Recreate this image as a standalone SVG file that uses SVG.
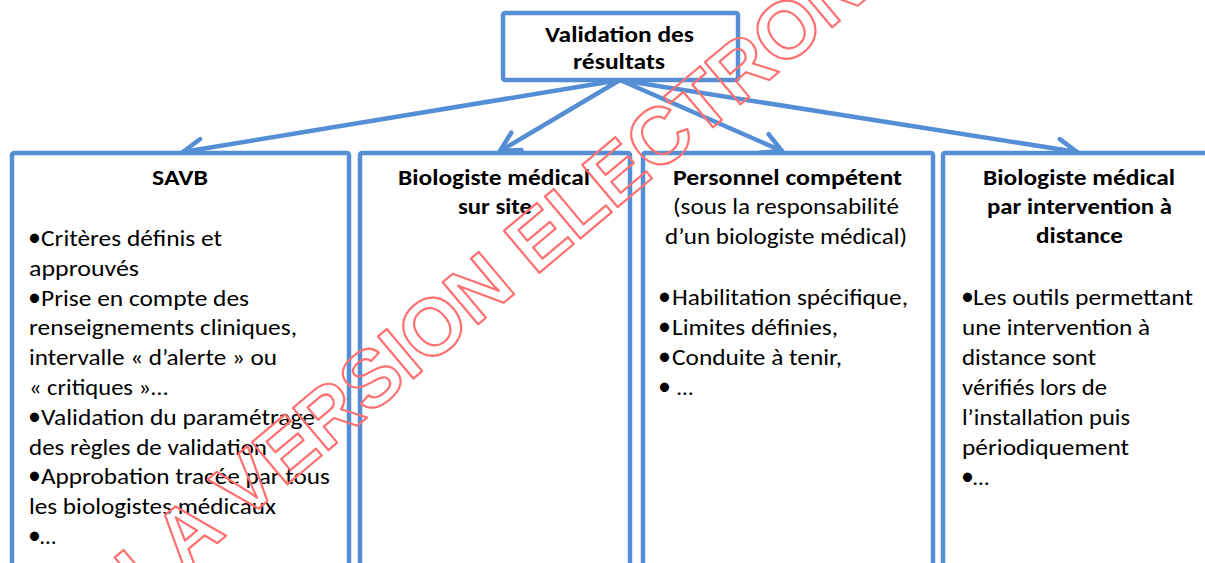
<svg xmlns="http://www.w3.org/2000/svg" width="1205" height="563" viewBox="0 0 1205 563">
<style>
.box{fill:#fff;stroke:#558ED5;stroke-width:4.5}
.con{fill:none;stroke:#558ED5;stroke-width:4.5;stroke-linecap:round}
.t{font-family:Carlito,Lato,"Liberation Sans",sans-serif;font-size:23px;fill:#000}
.b{font-weight:700}
.bu{font-family:Carlito,Lato,"Liberation Sans",sans-serif;font-size:26px;fill:#000}
.wm{font-family:"Liberation Sans",Arial,sans-serif;font-weight:700;font-size:80px;fill:none;stroke:#FF7070;stroke-width:2.2;stroke-linejoin:round}
</style>
<defs>
<marker id="arr" markerUnits="userSpaceOnUse" markerWidth="40" markerHeight="40" viewBox="-30 -20 40 40" refX="0" refY="0" orient="auto">
<path d="M-19,-10 L0,0 L-19,10" fill="none" stroke="#558ED5" stroke-width="4.5" stroke-linecap="round" stroke-linejoin="round"/>
</marker>
</defs>
<rect width="1205" height="563" fill="#fff"/>
<g id="connectors">
<line class="con" x1="620" y1="80" x2="183" y2="152" marker-end="url(#arr)"/>
<line class="con" x1="620" y1="80" x2="500" y2="151" marker-end="url(#arr)"/>
<line class="con" x1="620" y1="80" x2="782" y2="151" marker-end="url(#arr)"/>
<line class="con" x1="620" y1="80" x2="1077" y2="152" marker-end="url(#arr)"/>
</g>
<g id="node-top">
<rect class="box" x="503" y="13" width="235" height="67" rx="2"/>
<text class="t b" x="545" y="42" textLength="149" lengthAdjust="spacingAndGlyphs">Validation des</text>
<text class="t b" x="573" y="69" textLength="92" lengthAdjust="spacingAndGlyphs">résultats</text>
</g>
<g id="node-savb">
<rect class="box" x="12" y="153" width="337" height="440" rx="2"/>
<text class="t b" x="152" y="185" textLength="56" lengthAdjust="spacingAndGlyphs">SAVB</text>
<text class="bu" x="28" y="246">•</text>
<text class="t" x="41" y="246" textLength="181" lengthAdjust="spacingAndGlyphs">Critères définis et</text>
<text class="t" x="29" y="275.8" textLength="110" lengthAdjust="spacingAndGlyphs">approuvés</text>
<text class="bu" x="28" y="305.6">•</text>
<text class="t" x="41" y="305.6" textLength="208" lengthAdjust="spacingAndGlyphs">Prise en compte des</text>
<text class="t" x="29" y="335.4" textLength="268" lengthAdjust="spacingAndGlyphs">renseignements cliniques,</text>
<text class="t" x="29" y="365.2" textLength="248" lengthAdjust="spacingAndGlyphs">intervalle « d’alerte » ou</text>
<text class="t" x="29" y="395" textLength="139" lengthAdjust="spacingAndGlyphs">« critiques »…</text>
<text class="bu" x="28" y="424.8">•</text>
<text class="t" x="41" y="424.8" textLength="274" lengthAdjust="spacingAndGlyphs">Validation du paramétrage</text>
<text class="t" x="29" y="454.6" textLength="238" lengthAdjust="spacingAndGlyphs">des règles de validation</text>
<text class="bu" x="28" y="484.4">•</text>
<text class="t" x="41" y="484.4" textLength="289" lengthAdjust="spacingAndGlyphs">Approbation tracée par tous</text>
<text class="t" x="29" y="514.2" textLength="247" lengthAdjust="spacingAndGlyphs">les biologistes médicaux</text>
<text class="bu" x="28" y="544">•</text>
<text class="t" x="40" y="544">…</text>
</g>
<g id="node-site">
<rect class="box" x="360" y="153" width="270" height="440" rx="2"/>
<text class="t b" x="398" y="185" textLength="192" lengthAdjust="spacingAndGlyphs">Biologiste médical</text>
<text class="t b" x="458" y="214" textLength="74" lengthAdjust="spacingAndGlyphs">sur site</text>
</g>
<g id="node-personnel">
<rect class="box" x="643" y="153" width="290" height="440" rx="2"/>
<text class="t b" x="673" y="185" textLength="229" lengthAdjust="spacingAndGlyphs">Personnel compétent</text>
<text class="t" x="673" y="214" textLength="226" lengthAdjust="spacingAndGlyphs">(sous la responsabilité</text>
<text class="t" x="665" y="244" textLength="242" lengthAdjust="spacingAndGlyphs">d’un biologiste médical)</text>
<text class="bu" x="658" y="305">•</text>
<text class="t" x="672" y="305" textLength="236" lengthAdjust="spacingAndGlyphs">Habilitation  spécifique,</text>
<text class="bu" x="658" y="335">•</text>
<text class="t" x="672" y="335" textLength="166" lengthAdjust="spacingAndGlyphs">Limites définies,</text>
<text class="bu" x="658" y="365">•</text>
<text class="t" x="672" y="365" textLength="170" lengthAdjust="spacingAndGlyphs">Conduite à tenir,</text>
<text class="bu" x="658" y="395">•</text>
<text class="t" x="677" y="395">…</text>
</g>
<g id="node-distance">
<rect class="box" x="943" y="153" width="300" height="440" rx="2"/>
<text class="t b" x="983" y="185" textLength="192" lengthAdjust="spacingAndGlyphs">Biologiste médical</text>
<text class="t b" x="987" y="214" textLength="185" lengthAdjust="spacingAndGlyphs">par intervention à</text>
<text class="t b" x="1036" y="243" textLength="87" lengthAdjust="spacingAndGlyphs">distance</text>
<text class="bu" x="961" y="305">•</text>
<text class="t" x="973" y="305" textLength="220" lengthAdjust="spacingAndGlyphs">Les outils permettant</text>
<text class="t" x="962" y="335" textLength="188" lengthAdjust="spacingAndGlyphs">une intervention à</text>
<text class="t" x="962" y="365" textLength="134" lengthAdjust="spacingAndGlyphs">distance sont</text>
<text class="t" x="962" y="395" textLength="145" lengthAdjust="spacingAndGlyphs">vérifiés lors de</text>
<text class="t" x="962" y="425" textLength="168" lengthAdjust="spacingAndGlyphs">l’installation puis</text>
<text class="t" x="962" y="455" textLength="167" lengthAdjust="spacingAndGlyphs">périodiquement</text>
<text class="bu" x="961" y="485">•</text>
<text class="t" x="973" y="485">…</text>
</g>
<text class="wm" transform="translate(146,603) rotate(-40)" x="0" y="0">LA VERSION ELECTRON</text>
</svg>
